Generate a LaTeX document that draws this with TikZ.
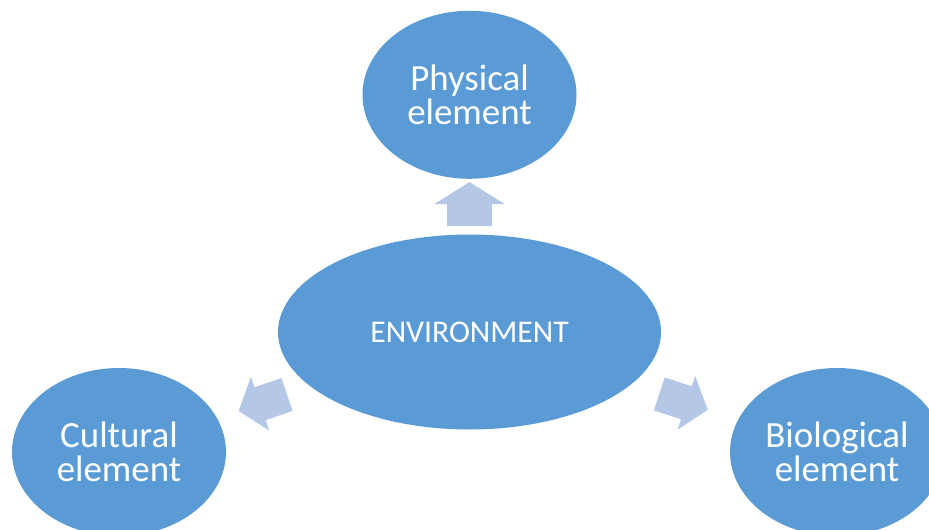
\documentclass[tikz,border=0pt]{standalone}
\usepackage{fontspec}
\setmainfont{Carlito}
\usetikzlibrary{shapes,arrows}
\usetikzlibrary{positioning}
\definecolor{elemblue}{HTML}{5B9BD5}
\definecolor{flowblue}{HTML}{B4C7E7}
\tikzstyle{element} = [ellipse, fill=elemblue, text=white, align=center, inner sep=0pt, minimum width=4.28cm, minimum height=3.36cm, font=\fontsize{21}{19.5}\selectfont]
\tikzstyle{centre} = [element, minimum width=7.66cm, minimum height=3.9cm, font=\fontsize{18}{18}\selectfont]
\tikzstyle{flow} = [single arrow, fill=flowblue, inner xsep=0pt, sloped, allow upside down]
\tikzstyle{sideflow} = [flow, minimum height=1.02cm, inner ysep=0.34cm, single arrow head extend=0.22cm, single arrow tip angle=103]

\begin{document}
\begin{tikzpicture}
    \useasboundingbox (0,0) rectangle (18.58,10.58);

    % Placing the ellipses
    \node [centre] (env) at (9.39,3.94) {ENVIRONMENT};
    \node [element, above=1.1cm of env] (physical) {Physical\\element};
    \node [element] (cultural) at ([shift={(-7.01,-2.4)}]env.center) {Cultural\\element};
    \node [element] (biological) at ([shift={(7.35,-2.4)}]env.center) {Biological\\element};

    % Block arrows between them
    \path (env) -- node [flow, pos=0.42, minimum height=0.88cm, inner ysep=0.44cm, single arrow head extend=0.26cm, single arrow tip angle=116] {} (physical);
    \path (env) -- node [sideflow, pos=0.44] {} (cultural);
    \path (env) -- node [sideflow, pos=0.43] {} (biological);
\end{tikzpicture}
\end{document}
